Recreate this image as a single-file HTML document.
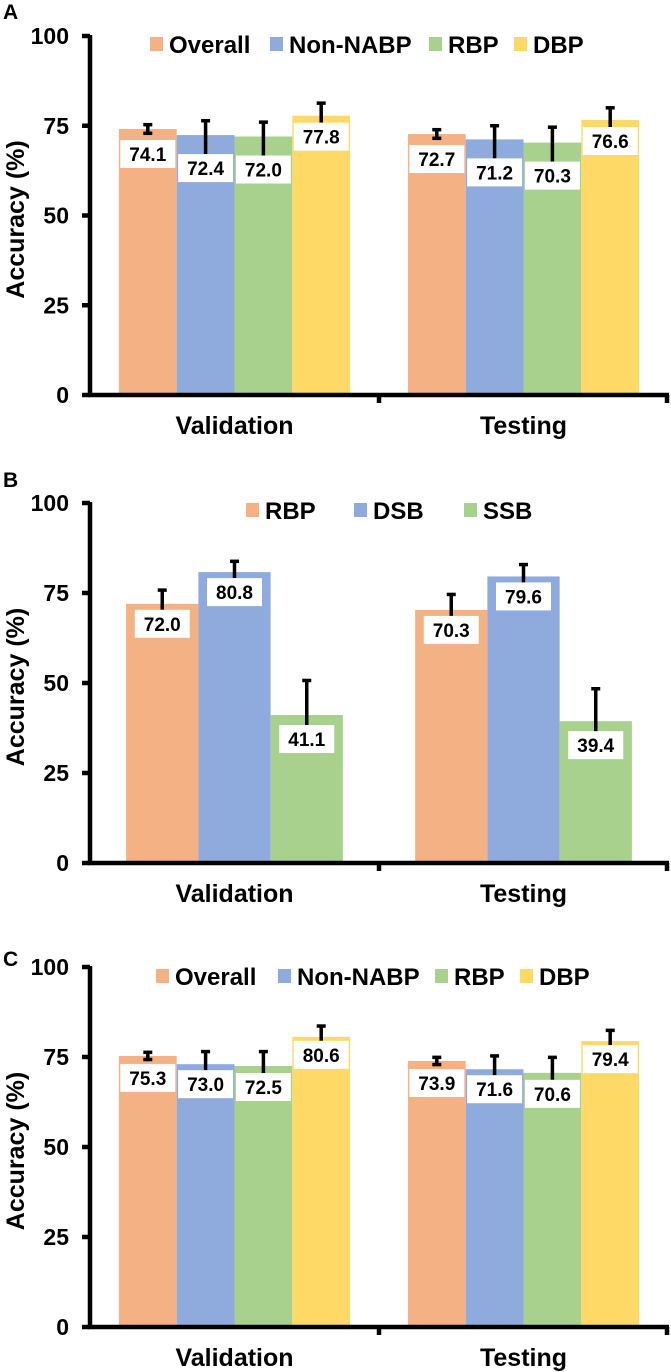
<!DOCTYPE html>
<html><head><meta charset="utf-8"><style>
html,body{margin:0;padding:0;background:#fff;}
svg{display:block;font-family:"Liberation Sans",Arial,sans-serif;font-weight:bold;}
</style></head><body>
<svg id="fig" width="671" height="1372" viewBox="0 0 671 1372"></svg>
<script>
const categories = ["Validation", "Testing"];
const seriesA = ["Overall", "Non-NABP", "RBP", "DBP"];
const valuesA = [[74.1, 72.4, 72.0, 77.8], [72.7, 71.2, 70.3, 76.6]];
const errorsA = [[1.2, 4.0, 4.0, 3.5], [1.2, 3.8, 4.3, 3.4]];
const seriesB = ["RBP", "DSB", "SSB"];
const valuesB = [[72.0, 80.8, 41.1], [70.3, 79.6, 39.4]];
const errorsB = [[3.8, 3.0, 9.6], [4.3, 3.3, 9.0]];
const seriesC = ["Overall", "Non-NABP", "RBP", "DBP"];
const valuesC = [[75.3, 73.0, 72.5, 80.6], [73.9, 71.6, 70.6, 79.4]];
const errorsC = [[1.0, 3.5, 4.0, 3.0], [1.0, 3.7, 4.3, 3.0]];
const yTicks = [0, 25, 50, 75, 100];

const NS = "http://www.w3.org/2000/svg";
const svg = document.getElementById("fig");
function mk(tag, attrs, parent, text) {
  const e = document.createElementNS(NS, tag);
  for (const k in attrs) e.setAttribute(k, attrs[k]);
  if (text !== undefined) e.textContent = text;
  (parent || svg).appendChild(e);
  return e;
}
const colorsFour = ["#F4B183", "#8FAADC", "#A9D18E", "#FFD966"];
const colorsThree = ["#F4B183", "#8FAADC", "#A9D18E"];

function panel(p) {
  const g = mk("g", {});
  
  
  const x0 = 90, x1 = 668;
  const y = v => p.yBottom - (v / 100) * (p.yBottom - p.yTop);
  const catW = (x1 - x0) / categories.length;
  const n = p.series.length;
  const barW = catW * p.groupFrac / n;

  const letter = mk("text", {x: p.letterX, y: p.letterY, "font-size": 21, fill: "#000"}, g, p.id);
  
  

  categories.forEach((c, ci) => {
    const cx = x0 + catW * (ci + 0.5);
    const gx = cx - barW * n / 2;
    p.series.forEach((s, si) => {
      const v = p.values[ci][si], e = p.errors[ci][si];
      const bx = gx + si * barW;
      const r = mk("rect", {x: bx, y: y(v), width: barW, height: y(0) - y(v), fill: p.colors[si]}, g);
      
      
      const mx = bx + barW / 2;
      const off = p.labelOff[si];
      const bw = 55, bh = 28;
      const boxTop = y(v) + off;
      const eb = mk("g", {stroke: "#000", "stroke-width": 3.5}, g);
      
      
      const low = p.lowCap[si] ? y(v - e) : boxTop;
      mk("line", {x1: mx, x2: mx, y1: low, y2: y(v + e)}, eb);
      mk("line", {x1: mx - 4.5, x2: mx + 4.5, y1: y(v + e), y2: y(v + e)}, eb);
      if (p.lowCap[si]) mk("line", {x1: mx - 4.5, x2: mx + 4.5, y1: low, y2: low}, eb);
      const lb = mk("rect", {x: mx - bw / 2, y: boxTop, width: bw, height: bh, fill: "#fff"}, g);
      
      
      const lt = mk("text", {x: mx, y: boxTop + 21, "font-size": 19, "text-anchor": "middle", fill: "#000"}, g, v.toFixed(1));
      
      
    });
    const cl = mk("text", {x: cx, y: p.yBottom + 39, "font-size": 25, "text-anchor": "middle", fill: "#000"}, g, c);
    
    
  });

  const ax = mk("g", {stroke: "#000", "stroke-width": 4.5}, g);
  
  
  mk("line", {x1: x0, x2: x0, y1: y(100) - 1, y2: y(0) + 2}, ax);
  mk("line", {x1: x0 - 2, x2: x1 + 1, y1: y(0), y2: y(0)}, ax);
  for (let i = 1; i <= categories.length; i++) {
    const tx = x0 + catW * i - (i === categories.length ? 1 : 0);
    mk("line", {x1: tx, x2: tx, y1: y(0), y2: y(0) + 8}, ax);
  }
  yTicks.forEach(t => {
    mk("line", {x1: x0 - 8, x2: x0, y1: y(t), y2: y(t)}, ax);
    const tl = mk("text", {x: 69, y: y(t) + 8, "font-size": 23, "text-anchor": "end", fill: "#000", stroke: "none"}, g, String(t));
    
    
  });
  const yt = mk("text", {x: 0, y: 0, "font-size": 25, "text-anchor": "middle", fill: "#000",
    transform: "translate(24," + ((y(0) + y(100)) / 2 + 4) + ") rotate(-90)"}, g, "Accuracy (%)");
  
  

  p.series.forEach((s, si) => {
    const lx = p.legendX[si], ly = p.legendY;
    const le = mk("g", {}, g);
    
    
    mk("rect", {x: lx, y: ly - 7, width: 13, height: 14, fill: p.colors[si]}, le);
    mk("text", {x: lx + 19, y: ly + 9, "font-size": 24, fill: "#000"}, le, s);
  });
}

panel({id: "A", yTop: 36, yBottom: 395, series: seriesA, values: valuesA, errors: errorsA,
  colors: colorsFour, groupFrac: 0.8, labelOff: [11, 19, 19, 7], lowCap: [true, false, false, false],
  legendX: [150, 270, 429, 514], legendY: 44, letterX: 3, letterY: 19});
panel({id: "B", yTop: 503, yBottom: 863, series: seriesB, values: valuesB, errors: errorsB,
  colors: colorsThree, groupFrac: 0.75, labelOff: [6, 6, 10], lowCap: [false, false, true],
  legendX: [246, 354, 464], legendY: 510, letterX: 3, letterY: 487});
panel({id: "C", yTop: 967, yBottom: 1327, series: seriesC, values: valuesC, errors: errorsC,
  colors: colorsFour, groupFrac: 0.8, labelOff: [8, 6, 7, 4], lowCap: [true, false, false, false],
  legendX: [156, 278, 435, 520], legendY: 976, letterX: 3, letterY: 966});
</script>
</body></html>
